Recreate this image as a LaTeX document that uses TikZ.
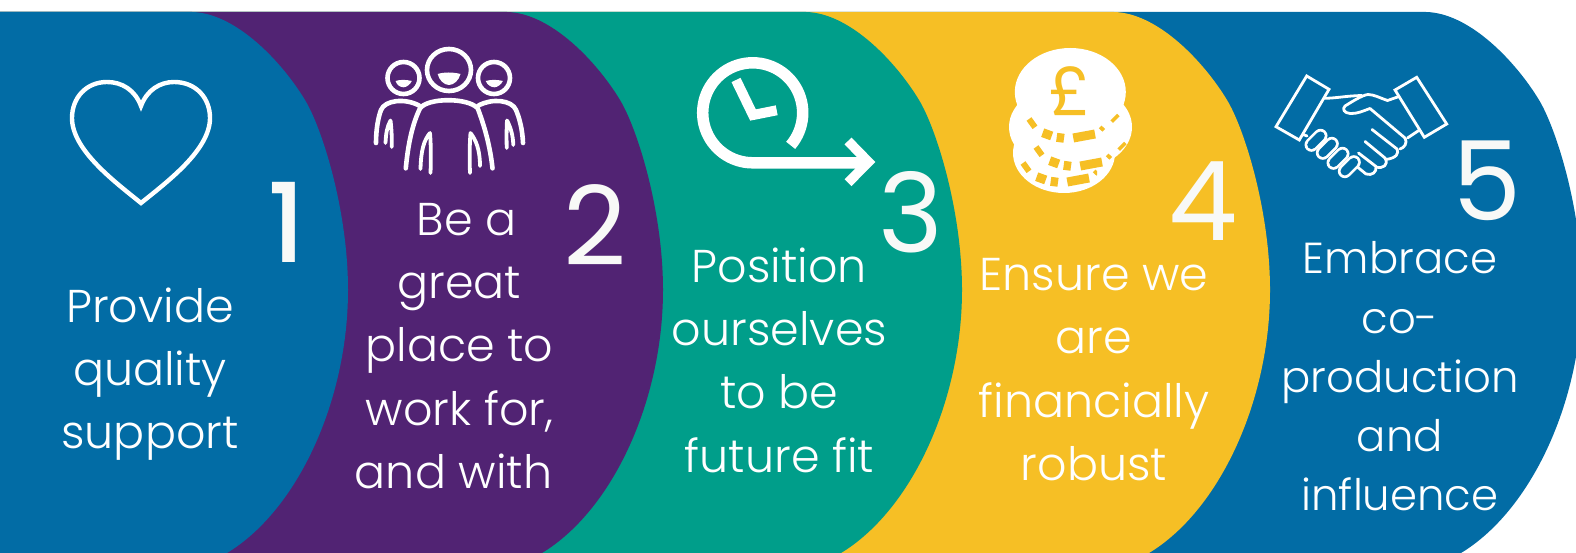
\documentclass[tikz,border=0pt]{standalone}
\usepackage{fontspec}
\setmainfont{Poppins Light}
\newfontfamily\numfont{Poppins}
\newfontfamily\numheavy{Poppins Medium}
\definecolor{bandblue}{HTML}{026CA5}
\definecolor{bandpurple}{HTML}{512373}
\definecolor{bandgreen}{HTML}{009E8A}
\definecolor{bandyellow}{HTML}{F6BF25}
\definecolor{numwhite}{HTML}{F8F9F7}
\tikzset{
  bandtext/.style={text=white,font=\fontsize{46}{63.3}\selectfont,align=center,inner sep=0pt},
  bandtextsmall/.style={text=white,font=\fontsize{43.4}{59.2}\selectfont,align=center,inner sep=0pt},
  bignum/.style={text=numwhite,font=\numfont\fontsize{110}{110}\selectfont,inner sep=0pt},
  heartline/.style={draw=white,line width=4.4pt,miter limit=20},
  peopleline/.style={draw=white,line width=4.6pt,line join=round,line cap=round},
  spikeline/.style={draw=white,line width=3.8pt,line join=round,line cap=round},
  clockline/.style={draw=white,line width=11.5pt},
  handline/.style={draw=white,line width=2.8pt,line join=round,line cap=round},
  coinband/.style={draw=bandyellow,line width=9pt},
}
\newcommand{\bandshape}[2]{%
  \begin{scope}[xshift=#2pt]
  \fill[#1] (-3000,12) -- (-156,12)
    .. controls (-112,13) and (-66,62) .. (-43,100)
    .. controls (-26,128) and (0,210) .. (0,290)
    .. controls (0,400) and (-50,510) .. (-121,553)
    -- (-130,560) -- (-3000,560) -- cycle;
  \end{scope}}
\newcommand{\fingercap}[2]{%
  \draw[white,line width=14pt,line cap=round] (#1-4.5,#2+4.5) -- (#1+4.5,#2-4.5);
  \draw[bandblue,line width=8.6pt,line cap=round] (#1-4.5,#2+4.5) -- (#1+4.5,#2-4.5);}
\newcommand{\coinrow}[2]{%
  \begin{scope}[shift={(#1pt,-#2pt)}]
  \draw[coinband,line width=6pt] (1029,119) -- (1035,127.3);
  \draw[coinband] (1042.7,132.7) -- (1051.7,136);
  \draw[coinband] (1056.7,137.3) -- (1064,138.3);
  \draw[coinband] (1073.3,138) -- (1095,134);
  \draw[coinband,line width=5pt] (1100.7,130) -- (1103.3,127.3);
  \draw[coinband,line width=3.5pt] (1111.7,121.7) -- (1118.3,115);
  \end{scope}}
\begin{document}
\begin{tikzpicture}[x=1pt,y=-1pt]
\useasboundingbox (0,0) rectangle (1576,553);
\fill[white] (0,0) rectangle (1576,553);
\begin{scope}
\clip (0,0) rectangle (1576,553);
\bandshape{bandblue}{1582}
\bandshape{bandyellow}{1270}
\bandshape{bandgreen}{962}
\bandshape{bandpurple}{663}
\bandshape{bandblue}{348}
\end{scope}
% heart
\draw[heartline] (141,106) .. controls (135,90) and (122,82) .. (107,82)
  .. controls (86,82) and (72,98) .. (72,118)
  .. controls (72,150) and (115,182) .. (141,203)
  .. controls (167,182) and (210,150) .. (210,118)
  .. controls (210,98) and (196,82) .. (174,82)
  .. controls (160,82) and (147,90) .. (141,106) -- cycle;
% people
\draw[peopleline] (449,70) ellipse [x radius=22,y radius=21];
\draw[peopleline] (403.5,78) ellipse [x radius=16,y radius=16];
\draw[peopleline] (494,78) ellipse [x radius=16,y radius=16];
\fill[white] (437.7,74) .. controls (444,72) and (453,72) .. (460.5,74) .. controls (459,80) and (454,85) .. (449,85) .. controls (444,85) and (439,80) .. (437.7,74) -- cycle;
\fill[white] (395.5,81) .. controls (400,79.5) and (406,79.5) .. (411.8,81) .. controls (410,85) and (406,87.3) .. (403.6,87.3) .. controls (400,87.3) and (397,85) .. (395.5,81) -- cycle;
\fill[white] (485.7,81) .. controls (491,79.5) and (497,79.5) .. (502.9,81) .. controls (501,85) and (497,87.3) .. (494.3,87.3) .. controls (491,87.3) and (487.5,85) .. (485.7,81) -- cycle;
\draw[peopleline] (405.8,168.3) .. controls (408,145) and (412,125) .. (420,108.3) .. controls (428,97.5) and (468,97.5) .. (477.7,108.3) .. controls (484,125) and (490,145) .. (492.5,168.3);
\draw[peopleline] (376,143) .. controls (376,130) and (378,118) .. (381,110) .. controls (385,100) and (405,98) .. (419,105.5);
\draw[peopleline] (523,143) .. controls (522.5,130) and (519.5,118) .. (516,110) .. controls (512,100) and (492,98) .. (478.6,105.5);
\draw[spikeline] (420.5,169) .. controls (421,150) and (424,140) .. (430,133) .. controls (431,145) and (431,160) .. (430.5,173);
\draw[spikeline] (470,173) .. controls (469.5,160) and (469.5,145) .. (470.5,133) .. controls (476,140) and (480,150) .. (480,166);
\draw[spikeline] (385.5,143) .. controls (386,133) and (387,127) .. (390.5,120.5) .. controls (391.5,128) and (392,138) .. (391.7,147);
\draw[spikeline] (506.7,148) .. controls (506.5,138) and (506.5,128) .. (507,120.5) .. controls (510.5,127) and (513,135) .. (513.3,145);
% clock
\draw[clockline] plot[domain=40.6:-270,samples=70] ({752.7+50*cos(\x)},{112.8+50*sin(\x)}) -- (868,162.8);
\draw[draw=white,line width=9.7pt,miter limit=10] (848,141) -- (868.5,162) -- (848,182.7);
\draw[draw=white,line width=10pt,miter limit=10] (736,80) -- (753,115) -- (776.7,110.3);
% coins
\fill[white] (1064,153) ellipse [x radius=51,y radius=40];
\fill[white] (1070.5,127) ellipse [x radius=61.5,y radius=44];
\fill[white] (1070.3,92) ellipse [x radius=55.5,y radius=44];
\coinrow{0}{0}
\coinrow{7}{28}
\begin{scope}
\clip (1000,120) rectangle (1097,200);
\coinrow{-6}{44}
\end{scope}
\node[text=bandyellow,font=\numfont\fontsize{68}{68}\selectfont,inner sep=0pt] (pound) at (1070,91) {£};
% handshake
\draw[handline,miter limit=10,line cap=butt,line join=miter] (1306.7,76) -- (1329,89.3) -- (1299.3,140) -- (1276,126.7) -- cycle;
\draw[handline,miter limit=10,line cap=butt,line join=miter] (1416.7,77.3) -- (1395,90) -- (1424.3,137.3) -- (1446.7,124) -- cycle;
\draw[handline] (1325,98.3) .. controls (1338,98) and (1345,96) .. (1361.7,95.5);
\draw[handline] (1399,96.5) -- (1387.5,100.5) .. controls (1380,98) and (1374,94.5) .. (1368,94.5) .. controls (1362,95) and (1350,103) .. (1345,106) .. controls (1342,109) and (1344,113) .. (1350,113.5) .. controls (1357,114) and (1363,111) .. (1370,108.5) -- (1405,138) .. controls (1408,143) and (1404,148) .. (1400,149) ;
\draw[handline] (1372,129.5) -- (1397,149) .. controls (1399,153) and (1397,158) .. (1386,159.5);
\draw[handline] (1365,141.5) -- (1385,158) .. controls (1389,165) and (1383,169) .. (1376,167);
\draw[handline] (1358.5,153) -- (1376,166.5) .. controls (1377,172) and (1372,176) .. (1366,174) -- (1358,167.5);
\draw[handline] (1407.5,138) -- (1419.5,130);
\draw[handline] (1303,134.5) -- (1307,136);
\fingercap{1316}{140.3}
\fingercap{1327.3}{148.3}
\fingercap{1338}{158.3}
\fingercap{1349.3}{166.7}
% numbers
\node[bignum,font=\numheavy\fontsize{110}{110}\selectfont] (n1) at (287,222.5) {1};
\node[bignum] (n2) at (595.5,225) {2};
\node[bignum] (n3) at (911,212) {3};
\node[bignum] (n4) at (1203,201) {4};
\node[bignum] (n5) at (1487.5,181) {5};
% texts
\node[bandtext] (t1) at (150,374) {Provide\\quality\\support};
\node[bandtext] (t2) at (459.5,346) {\hspace*{14pt}Be a\\great\\place to\\work for,\\and with\hspace*{12pt}};
\node[bandtext] (t3) at (779.5,360) {Position\\ourselves\\to be\\future fit};
\node[bandtext] (t4) at (1094,369.5) {Ensure we\\are\\financially\\robust};
\node[bandtextsmall] (t5) at (1400,376.5) {Embrace\\co-\\production\\and\\influence};
\end{tikzpicture}
\end{document}
